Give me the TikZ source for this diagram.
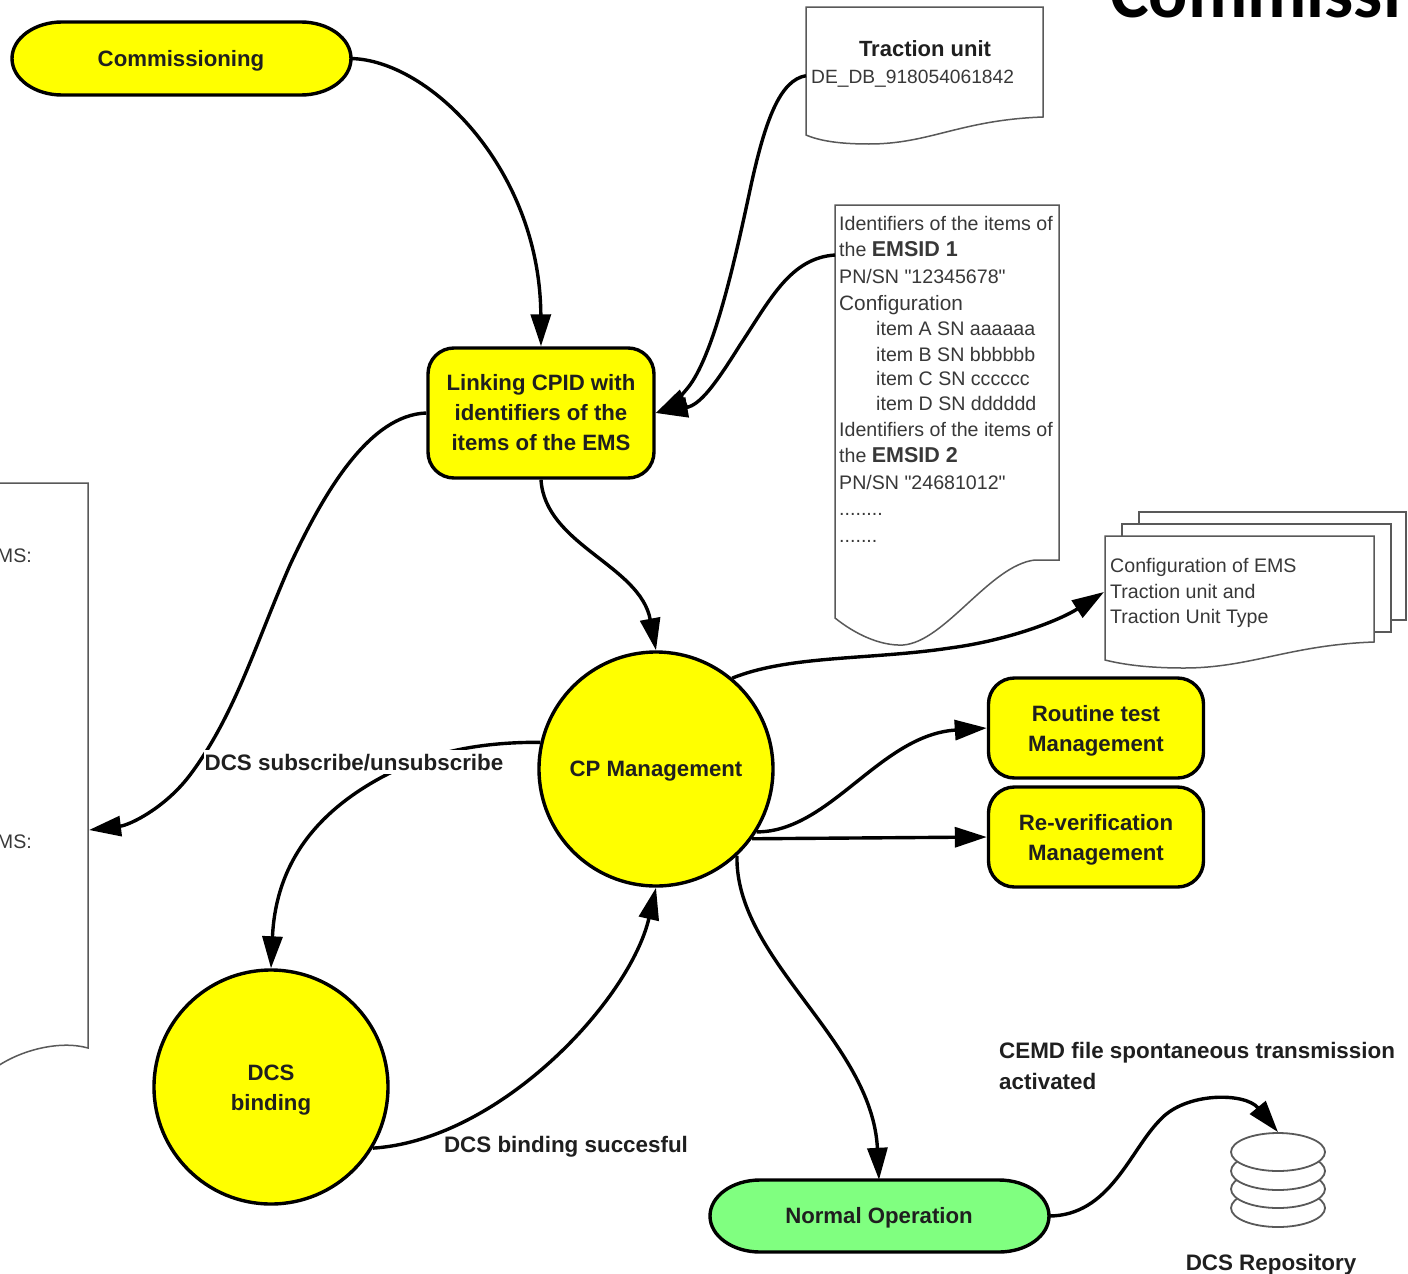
\documentclass[tikz,border=0pt]{standalone}
\usepackage{fontspec}
\setmainfont{Liberation Sans}
\newfontfamily\titlefont{Carlito}
\newfontfamily\rawfont{Liberation Sans}
\usetikzlibrary{arrows.meta,shapes.geometric}
\definecolor{procyellow}{RGB}{255,255,0}
\definecolor{opgreen}{RGB}{128,255,128}
\tikzset{
  shapeline/.style={draw=black,line width=3.4pt},
  boldtxt/.style={font=\fontsize{22.2}{30}\selectfont\bfseries,text=black!88,align=center,execute at begin node={\rule{0pt}{20pt}}},
  twoline/.style={execute at begin node={}},
  termbox/.style={boldtxt,minimum width=339pt,minimum height=73pt,inner sep=0pt},
  procbox/.style={boldtxt,shapeline,fill=procyellow,rectangle,rounded corners=26pt,inner sep=0pt},
  procircle/.style={boldtxt,shapeline,fill=procyellow,circle,minimum size=234pt,inner sep=0pt},
  docline/.style={draw=black!65,line width=1.5pt,fill=white},
  docbox/.style={rectangle,inner sep=0pt},
  doctxt/.style={font=\rawfont\fontsize{19.6}{26}\selectfont,text=black!78,anchor=base west,inner sep=0pt,yshift=-7pt},
  docbold/.style={font=\fontsize{22}{26}\selectfont\bfseries,text=black!88,anchor=center,inner sep=0pt},
  label/.style={font=\fontsize{22.4}{30}\selectfont\bfseries,text=black!88,inner sep=0pt,anchor=base,yshift=-8pt},
  conn/.style={draw=black,line width=3.4pt,-{Triangle[length=32pt,width=20pt]}},
  disc/.style={ellipse,draw=black!65,line width=1.8pt,fill=white,minimum width=94pt,minimum height=38pt,inner sep=0pt},
}
\newcommand{\embold}[1]{{\fontsize{21.5}{26}\selectfont\bfseries #1}}
\newcommand{\lowered}[1]{\raisebox{-2.5pt}[16pt][5pt]{#1}}
\begin{document}
\begin{tikzpicture}[x=1pt,y=-1pt]
\path[use as bounding box,clip] (0,0) rectangle (1408,1274);
\fill[white] (0,0) rectangle (1408,1274);

% title fragment
\node[font=\titlefont\bfseries\fontsize{73}{73}\selectfont,text=black,anchor=base west,inner sep=0pt] (title) at (1110,17) {Commissi};

% documents
\draw[docline] (806,7) -- (1043,7) -- (1043,117) .. controls (960,120) and (930,144) .. (869,144) .. controls (840,144) and (820,141) .. (806,135) -- cycle;
\node[docbox,minimum width=237pt,minimum height=137pt,anchor=north west] (tu) at (806,7) {};
\node[docbold] (tu1) at (925,49) {Traction unit};
\node[doctxt] (tu2) at (811,76) {\fontsize{19.2}{26}\selectfont DE\_DB\_918054061842};

\draw[docline] (835,205) -- (1059,205) -- (1059,560) -- (1035,560) .. controls (990,565) and (945,642) .. (903,645) .. controls (880,646) and (855,634) .. (835,618) -- cycle;
\node[docbox,minimum width=224pt,minimum height=440pt,anchor=north west] (ident) at (835,205) {};
\coordinate (identport) at (835,255);
\node[doctxt] (i1) at (839,223) {Identifiers of the items of};
\node[doctxt] (i2) at (839,249) {the \embold{EMSID 1}};
\node[doctxt] (i3) at (839,276) {PN/SN "12345678"};
\node[doctxt] (i4) at (839,303) {\fontsize{20.8}{26}\selectfont Configuration};
\node[doctxt] (i5) at (876,328) {item A SN aaaaaa};
\node[doctxt] (i6) at (876,354) {item B SN bbbbbb};
\node[doctxt] (i7) at (876,378) {item C SN cccccc};
\node[doctxt] (i8) at (876,403) {item D SN dddddd};
\node[doctxt] (i9) at (839,429) {Identifiers of the items of};
\node[doctxt] (i10) at (839,455) {the \embold{EMSID 2}};
\node[doctxt] (i11) at (839,482) {PN/SN "24681012"};
\node[doctxt] (i12) at (839,508) {........};
\node[doctxt] (i13) at (839,535) {.......};

\draw[docline] (1139,524) -- (1139,512) -- (1406,512) -- (1406,620) -- (1391,620);
\draw[docline] (1122,536) -- (1122,524) -- (1391,524) -- (1391,632) -- (1374,632);
\draw[docline] (1105,536) -- (1374,536) -- (1374,642) .. controls (1290,645) and (1250,668) .. (1184,668) .. controls (1150,668) and (1125,665) .. (1105,660) -- cycle;
\node[docbox,minimum width=269pt,minimum height=132pt,anchor=north west] (cfg) at (1105,536) {};
\coordinate (cfgport) at (1104,592);
\node[doctxt] (c1) at (1110,565) {Configuration of EMS};
\node[doctxt] (c2) at (1110,591) {Traction unit and};
\node[doctxt] (c3) at (1110,616) {Traction Unit Type};

\draw[docline] (-5,483) -- (88,483) -- (88,1048) .. controls (60,1040) and (20,1050) .. (-5,1068);
\coordinate (leftport) at (89,830);
\node[doctxt,anchor=base east] (l1) at (32,555) {MS:};
\node[doctxt,anchor=base east] (l2) at (32,841) {MS:};

% terminators
\path[shapeline,fill=procyellow] (62,22) -- (301,22) arc[start angle=270,end angle=450,x radius=50,y radius=36.5] -- (62,95) arc[start angle=90,end angle=270,x radius=50,y radius=36.5] -- cycle;
\node[termbox] (comm) at (181,58.5) {Commissioning};
\path[shapeline,fill=opgreen] (760,1180) -- (999,1180) arc[start angle=270,end angle=450,x radius=50,y radius=36] -- (760,1252) arc[start angle=90,end angle=270,x radius=50,y radius=36] -- cycle;
\node[termbox,minimum height=72pt] (normal) at (879,1216) {Normal Operation};

% process nodes
\node[procbox,minimum width=226pt,minimum height=130pt] (link) at (541,413) {Linking CPID with\\identifiers of the\\items of the EMS};
\node[procbox,twoline,minimum width=215pt,minimum height=100pt] (routine) at (1096,728) {\lowered{Routine test}\\\lowered{Management}};
\node[procbox,twoline,minimum width=215pt,minimum height=100pt] (rever) at (1096,837) {\lowered{Re-verification}\\\lowered{Management}};
\node[procircle] (cp) at (656,769) {CP Management};
\node[procircle,twoline] (dcs) at (271,1087) {\lowered{DCS}\\\lowered{binding}};

% repository
\node[disc] (d4) at (1278,1208) {};
\node[disc] (d3) at (1278,1189) {};
\node[disc] (d2) at (1278,1171) {};
\node[disc] (repo) at (1278,1152) {};

% connectors
\draw[conn] (comm.east) .. controls (430,60) and (540,170) .. (link.north);
\draw[conn] (tu.west) .. controls (780,80) and (765,120) .. (750,190) .. controls (735,260) and (715,350) .. (690,385) .. controls (680,398) and (670,406) .. (link.east);
\draw[conn] (identport) .. controls (790,258) and (770,300) .. (740,345) .. controls (715,385) and (700,405) .. (link.east);
\draw[conn] (link.west) .. controls (370,415) and (325,490) .. (290,565) .. controls (255,645) and (235,715) .. (190,775) .. controls (165,808) and (130,825) .. (leftport);
\draw[conn] (link.south) .. controls (545,545) and (640,565) .. (cp.north);
\draw[conn] (cp.50) .. controls (790,655) and (870,660) .. (950,648) .. controls (1010,640) and (1060,620) .. (cfgport);
\draw[conn] (cp.-32) .. controls (830,832) and (880,735) .. (routine.west);
\draw[conn] (cp.-36) -- (rever.west);
\draw[conn] (cp.-47) .. controls (735,960) and (872,1040) .. (normal.north);
\draw[conn] (cp.167) .. controls (480,742) and (430,752) .. (384,776) .. controls (320,810) and (276,860) .. (dcs.north);
\draw[conn] (dcs.-31) .. controls (500,1140) and (630,1000) .. (cp.south);
\draw[conn] (normal.east) .. controls (1110,1216) and (1130,1150) .. (1160,1120) .. controls (1185,1092) and (1245,1092) .. (repo.north);

% labels
\node[label,fill=white,inner xsep=1pt,inner ysep=4pt] (subs) at (354,762) {DCS subscribe/unsubscribe};
\node[label,fill=white,inner xsep=1pt,inner ysep=2pt] (succ) at (566,1144) {DCS binding succesful};
\node[label,anchor=base west] (cemd1) at (999,1050) {CEMD file spontaneous transmission};
\node[label,anchor=base west] (cemd2) at (999,1081) {activated};
\node[label] (repol) at (1271,1262) {DCS Repository};
\end{tikzpicture}
\end{document}
